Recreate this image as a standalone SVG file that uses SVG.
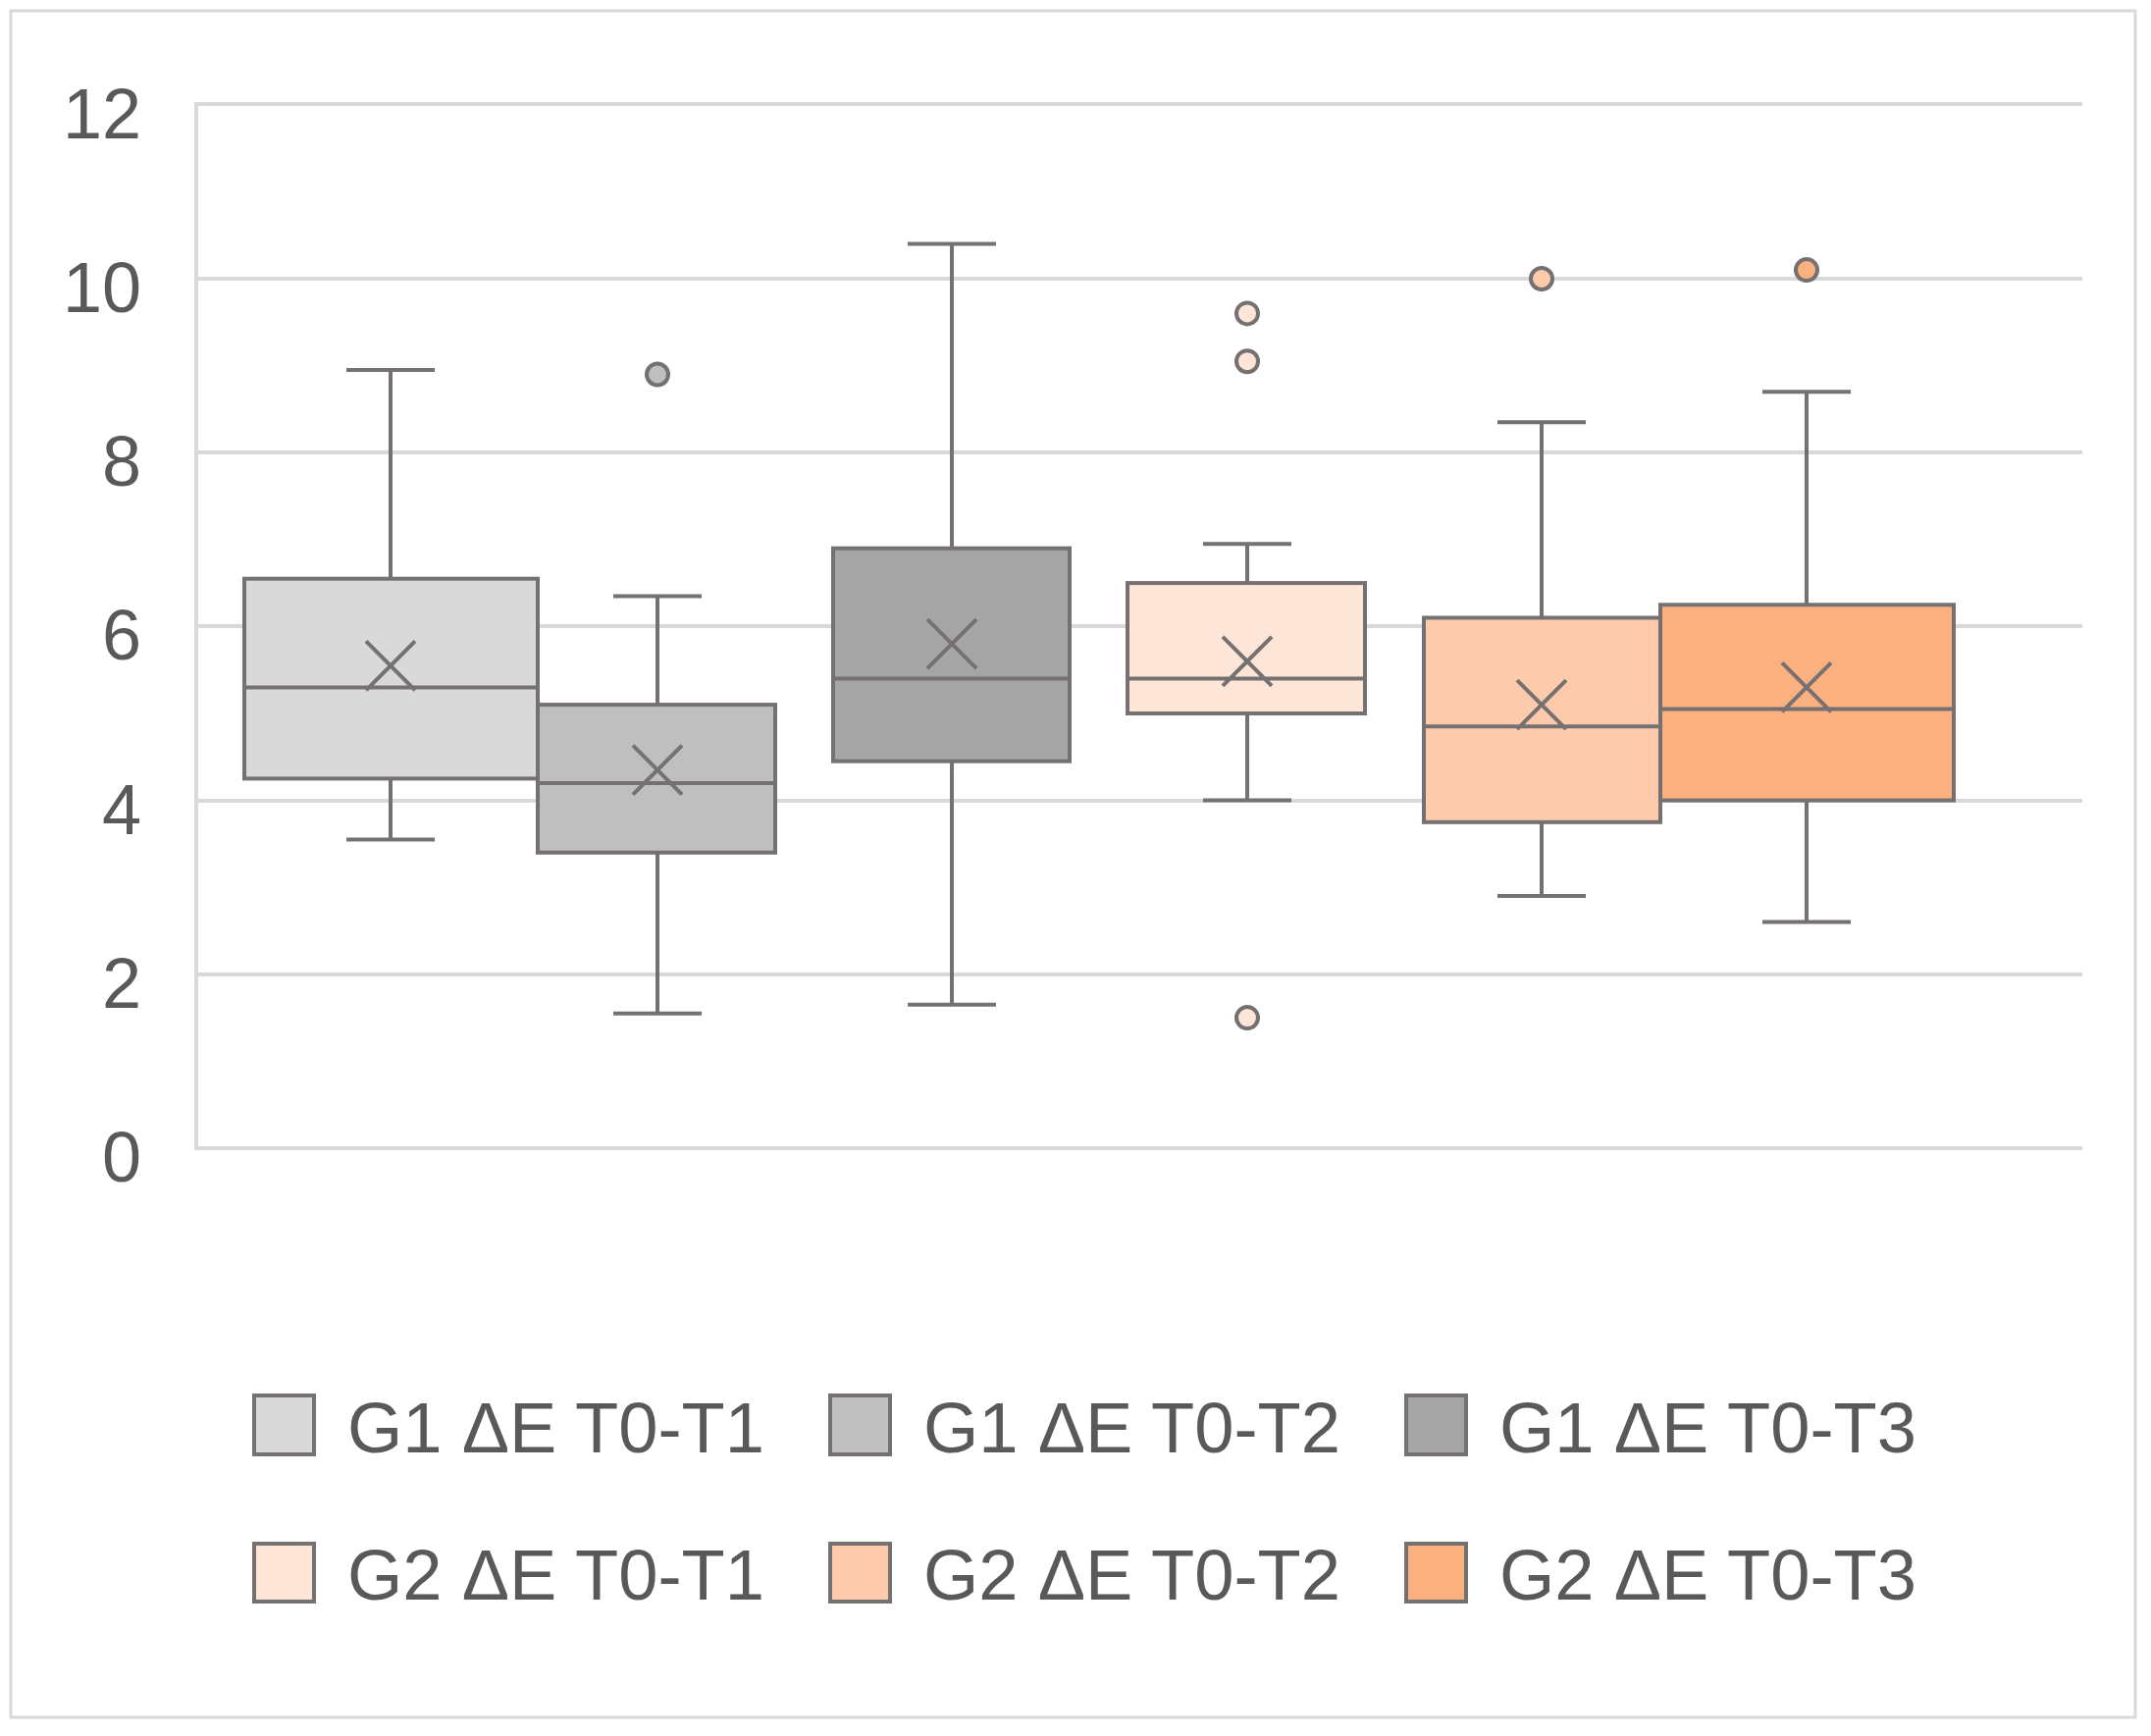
<svg xmlns="http://www.w3.org/2000/svg" width="2192" height="1769" viewBox="0 0 2192 1769">
<style>
.g{stroke:#d9d9d9;stroke-width:4;fill:none}
.s{stroke:#767171;stroke-width:4;fill:none}
.b{stroke:#767171;stroke-width:4}
.t{font-family:"Liberation Sans",Arial,sans-serif;fill:#595959}
.y{font-size:72px;text-anchor:end}
.l{font-size:72px}
</style>
<rect x="0" y="0" width="2192" height="1769" fill="#fff"/>
<rect x="11" y="11" width="2165" height="1739" fill="#fff" stroke="#d9d9d9" stroke-width="3"/>
<g id="grid">
<line class="g" x1="200" y1="106" x2="2122" y2="106"/>
<line class="g" x1="200" y1="284" x2="2122" y2="284"/>
<line class="g" x1="200" y1="461" x2="2122" y2="461"/>
<line class="g" x1="200" y1="638" x2="2122" y2="638"/>
<line class="g" x1="200" y1="816" x2="2122" y2="816"/>
<line class="g" x1="200" y1="993" x2="2122" y2="993"/>
<line class="g" x1="200" y1="1170" x2="2122" y2="1170"/>
<line class="g" x1="200" y1="104" x2="200" y2="1172"/>
</g>
<g id="yaxis" class="t y">
<text x="144" y="141">12</text>
<text x="144" y="318">10</text>
<text x="144" y="495">8</text>
<text x="144" y="672">6</text>
<text x="144" y="850">4</text>
<text x="144" y="1027">2</text>
<text x="144" y="1204">0</text>
</g>
<g id="box1">
<path class="s" d="M398 589.7V377M353 377H443M398 793.4V855.5M353 855.5H443"/>
<rect class="b" x="249" y="589.7" width="299" height="203.7" fill="#d9d9d9"/>
<path class="s" d="M249 700.4H548M373 653.3L423 703.3M373 703.3L423 653.3"/>
</g>
<g id="box2">
<path class="s" d="M670 718.1V607.4M625 607.4H715M670 868.8V1032.7M625 1032.7H715"/>
<rect class="b" x="548" y="718.1" width="242" height="150.7" fill="#bfbfbf"/>
<path class="s" d="M548 797.9H790M645 759.6L695 809.6M645 809.6L695 759.6"/>
<circle class="b" cx="670" cy="381.5" r="11" fill="#bfbfbf"/>
</g>
<g id="box3">
<path class="s" d="M970 558.7V248.6M925 248.6H1015M970 775.7V1023.8M925 1023.8H1015"/>
<rect class="b" x="849" y="558.7" width="241" height="217" fill="#a5a5a5"/>
<path class="s" d="M849 691.6H1090M945 631.1L995 681.1M945 681.1L995 631.1"/>
</g>
<g id="box4">
<path class="s" d="M1271 594.1V554.2M1226 554.2H1316M1271 727V815.6M1226 815.6H1316"/>
<rect class="b" x="1149" y="594.1" width="242" height="132.9" fill="#fde6d8"/>
<path class="s" d="M1149 691.6H1391M1246 648.8L1296 698.8M1246 698.8L1296 648.8"/>
<circle class="b" cx="1271" cy="319.4" r="11" fill="#fde6d8"/>
<circle class="b" cx="1271" cy="368.2" r="11" fill="#fde6d8"/>
<circle class="b" cx="1271" cy="1037.1" r="11" fill="#fde6d8"/>
</g>
<g id="box5">
<path class="s" d="M1571 629.5V430.2M1526 430.2H1616M1571 837.8V913.1M1526 913.1H1616"/>
<rect class="b" x="1451" y="629.5" width="241" height="208.3" fill="#fdcbac"/>
<path class="s" d="M1451 740.3H1692M1546 693.1L1596 743.1M1546 743.1L1596 693.1"/>
<circle class="b" cx="1571" cy="284" r="11" fill="#fdcbac"/>
</g>
<g id="box6">
<path class="s" d="M1841 616.3V399.2M1796 399.2H1886M1841 815.6V939.6M1796 939.6H1886"/>
<rect class="b" x="1692" y="616.3" width="299" height="199.3" fill="#fbb07f"/>
<path class="s" d="M1692 722.6H1991M1816 675.4L1866 725.4M1816 725.4L1866 675.4"/>
<circle class="b" cx="1841" cy="275.1" r="11" fill="#fbb07f"/>
</g>
<g id="legend">
<rect class="b" x="259" y="1422" width="61" height="60" fill="#d9d9d9"/>
<rect class="b" x="846" y="1422" width="61" height="60" fill="#bfbfbf"/>
<rect class="b" x="1433" y="1422" width="61" height="60" fill="#a5a5a5"/>
<rect class="b" x="259" y="1573" width="61" height="59" fill="#fde6d8"/>
<rect class="b" x="846" y="1573" width="61" height="59" fill="#fdcbac"/>
<rect class="b" x="1433" y="1573" width="61" height="59" fill="#fbb07f"/>
<g class="t l">
<text x="354" y="1480" textLength="425" lengthAdjust="spacingAndGlyphs">G1 ΔE T0-T1</text>
<text x="941" y="1480" textLength="425" lengthAdjust="spacingAndGlyphs">G1 ΔE T0-T2</text>
<text x="1528" y="1480" textLength="425" lengthAdjust="spacingAndGlyphs">G1 ΔE T0-T3</text>
<text x="354" y="1630" textLength="425" lengthAdjust="spacingAndGlyphs">G2 ΔE T0-T1</text>
<text x="941" y="1630" textLength="425" lengthAdjust="spacingAndGlyphs">G2 ΔE T0-T2</text>
<text x="1528" y="1630" textLength="425" lengthAdjust="spacingAndGlyphs">G2 ΔE T0-T3</text>
</g>
</g>
</svg>
